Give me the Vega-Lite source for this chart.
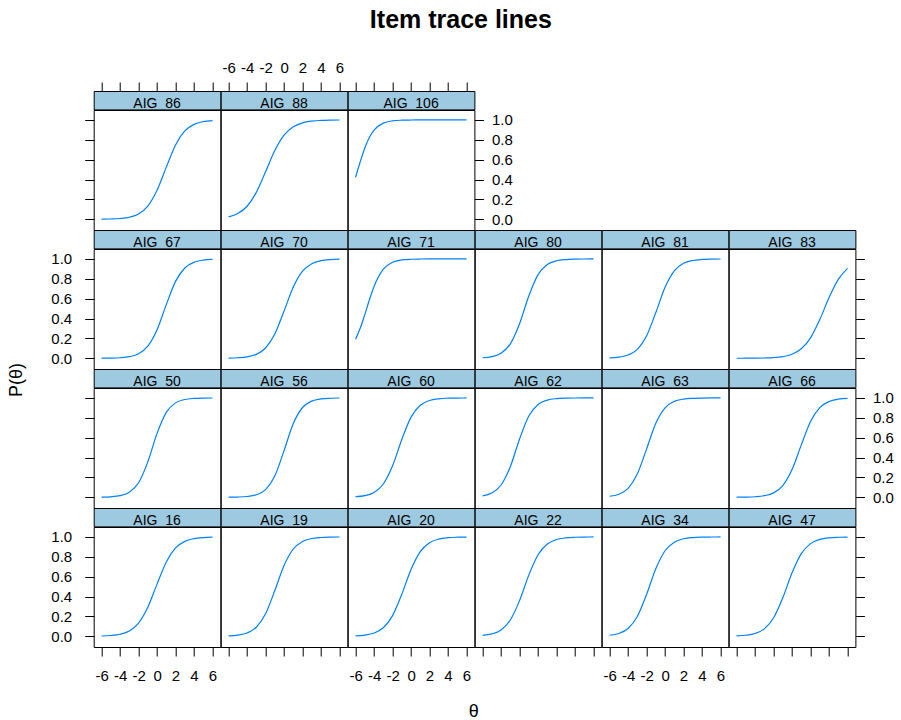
{
"$schema": "https://vega.github.io/schema/vega-lite/v6.json",
"background": "white",
"padding": {"left": 5, "top": 8, "right": 0, "bottom": 0},
"title": {"text": "Item trace lines", "fontSize": 25, "fontWeight": "bold", "font": "Liberation Sans", "color": "black", "anchor": "middle", "dx": 11.5, "offset": 26.3},
"config": {
  "view": {"stroke": "black", "strokeWidth": 1},
  "axis": {"domain": false, "grid": false, "ticks": true, "tickColor": "black", "tickSize": 9, "tickWidth": 1, "labelFont": "Liberation Sans", "labelFontSize": 15, "labelColor": "black", "labelFlush": false, "labelOverlap": false, "titleFont": "Liberation Sans", "titleFontSize": 18, "titleFontWeight": "normal", "titleColor": "black"}
},
"datasets": {"trace": [
{"item":"AIG_86","theta":-6,"p":0.0011},{"item":"AIG_86","theta":-5,"p":0.0029},{"item":"AIG_86","theta":-4,"p":0.0078},{"item":"AIG_86","theta":-3,"p":0.0206},{"item":"AIG_86","theta":-2,"p":0.0537},{"item":"AIG_86","theta":-1,"p":0.1324},{"item":"AIG_86","theta":0,"p":0.2911},{"item":"AIG_86","theta":1,"p":0.525},{"item":"AIG_86","theta":2,"p":0.7484},{"item":"AIG_86","theta":3,"p":0.8889},{"item":"AIG_86","theta":4,"p":0.9556},{"item":"AIG_86","theta":5,"p":0.983},{"item":"AIG_86","theta":6,"p":0.9936},
{"item":"AIG_88","theta":-6,"p":0.0244},{"item":"AIG_88","theta":-5,"p":0.0578},{"item":"AIG_88","theta":-4,"p":0.1312},{"item":"AIG_88","theta":-3,"p":0.271},{"item":"AIG_88","theta":-2,"p":0.4775},{"item":"AIG_88","theta":-1,"p":0.692},{"item":"AIG_88","theta":0,"p":0.847},{"item":"AIG_88","theta":1,"p":0.9315},{"item":"AIG_88","theta":2,"p":0.971},{"item":"AIG_88","theta":3,"p":0.988},{"item":"AIG_88","theta":4,"p":0.995},{"item":"AIG_88","theta":5,"p":0.998},{"item":"AIG_88","theta":6,"p":0.9992},
{"item":"AIG_106","theta":-6,"p":0.423},{"item":"AIG_106","theta":-5.5,"p":0.577},{"item":"AIG_106","theta":-5,"p":0.717},{"item":"AIG_106","theta":-4.5,"p":0.825},{"item":"AIG_106","theta":-4,"p":0.8975},{"item":"AIG_106","theta":-3,"p":0.968},{"item":"AIG_106","theta":-2,"p":0.9905},{"item":"AIG_106","theta":-1,"p":0.9972},{"item":"AIG_106","theta":0,"p":0.9992},{"item":"AIG_106","theta":1,"p":0.9998},{"item":"AIG_106","theta":2,"p":0.9999},{"item":"AIG_106","theta":3,"p":1},{"item":"AIG_106","theta":4,"p":1},{"item":"AIG_106","theta":5,"p":1},{"item":"AIG_106","theta":6,"p":1},
{"item":"AIG_67","theta":-6,"p":0.0007},{"item":"AIG_67","theta":-5,"p":0.0019},{"item":"AIG_67","theta":-4,"p":0.0055},{"item":"AIG_67","theta":-3,"p":0.016},{"item":"AIG_67","theta":-2,"p":0.0452},{"item":"AIG_67","theta":-1,"p":0.1214},{"item":"AIG_67","theta":0,"p":0.287},{"item":"AIG_67","theta":1,"p":0.54},{"item":"AIG_67","theta":2,"p":0.774},{"item":"AIG_67","theta":3,"p":0.909},{"item":"AIG_67","theta":4,"p":0.9668},{"item":"AIG_67","theta":5,"p":0.9883},{"item":"AIG_67","theta":6,"p":0.996},
{"item":"AIG_70","theta":-6,"p":0.0019},{"item":"AIG_70","theta":-5,"p":0.0052},{"item":"AIG_70","theta":-4,"p":0.0145},{"item":"AIG_70","theta":-3,"p":0.0395},{"item":"AIG_70","theta":-2,"p":0.1034},{"item":"AIG_70","theta":-1,"p":0.244},{"item":"AIG_70","theta":0,"p":0.475},{"item":"AIG_70","theta":1,"p":0.717},{"item":"AIG_70","theta":2,"p":0.8765},{"item":"AIG_70","theta":3,"p":0.952},{"item":"AIG_70","theta":4,"p":0.9824},{"item":"AIG_70","theta":5,"p":0.9936},{"item":"AIG_70","theta":6,"p":0.9977},
{"item":"AIG_71","theta":-6,"p":0.1916},{"item":"AIG_71","theta":-5.5,"p":0.3016},{"item":"AIG_71","theta":-5,"p":0.44},{"item":"AIG_71","theta":-4.5,"p":0.589},{"item":"AIG_71","theta":-4,"p":0.723},{"item":"AIG_71","theta":-3,"p":0.8966},{"item":"AIG_71","theta":-2,"p":0.9665},{"item":"AIG_71","theta":-1,"p":0.9896},{"item":"AIG_71","theta":0,"p":0.9969},{"item":"AIG_71","theta":1,"p":0.9991},{"item":"AIG_71","theta":2,"p":0.9997},{"item":"AIG_71","theta":3,"p":0.9999},{"item":"AIG_71","theta":4,"p":1},{"item":"AIG_71","theta":5,"p":1},{"item":"AIG_71","theta":6,"p":1},
{"item":"AIG_80","theta":-6,"p":0.0053},{"item":"AIG_80","theta":-5,"p":0.0166},{"item":"AIG_80","theta":-4,"p":0.0507},{"item":"AIG_80","theta":-3,"p":0.1443},{"item":"AIG_80","theta":-2,"p":0.3475},{"item":"AIG_80","theta":-1,"p":0.627},{"item":"AIG_80","theta":0,"p":0.8416},{"item":"AIG_80","theta":1,"p":0.9438},{"item":"AIG_80","theta":2,"p":0.9815},{"item":"AIG_80","theta":3,"p":0.994},{"item":"AIG_80","theta":4,"p":0.9981},{"item":"AIG_80","theta":5,"p":0.9994},{"item":"AIG_80","theta":6,"p":0.9998},
{"item":"AIG_81","theta":-6,"p":0.0038},{"item":"AIG_81","theta":-5,"p":0.0112},{"item":"AIG_81","theta":-4,"p":0.0323},{"item":"AIG_81","theta":-3,"p":0.0895},{"item":"AIG_81","theta":-2,"p":0.2244},{"item":"AIG_81","theta":-1,"p":0.46},{"item":"AIG_81","theta":0,"p":0.715},{"item":"AIG_81","theta":1,"p":0.8808},{"item":"AIG_81","theta":2,"p":0.956},{"item":"AIG_81","theta":3,"p":0.9846},{"item":"AIG_81","theta":4,"p":0.9947},{"item":"AIG_81","theta":5,"p":0.9982},{"item":"AIG_81","theta":6,"p":0.9994},
{"item":"AIG_83","theta":-6,"p":0.0002},{"item":"AIG_83","theta":-5,"p":0.0005},{"item":"AIG_83","theta":-4,"p":0.0012},{"item":"AIG_83","theta":-3,"p":0.0029},{"item":"AIG_83","theta":-2,"p":0.007},{"item":"AIG_83","theta":-1,"p":0.0171},{"item":"AIG_83","theta":0,"p":0.0411},{"item":"AIG_83","theta":1,"p":0.0953},{"item":"AIG_83","theta":2,"p":0.2059},{"item":"AIG_83","theta":3,"p":0.3894},{"item":"AIG_83","theta":4,"p":0.6106},{"item":"AIG_83","theta":5,"p":0.7941},{"item":"AIG_83","theta":6,"p":0.9047},
{"item":"AIG_50","theta":-6,"p":0.0015},{"item":"AIG_50","theta":-5,"p":0.0049},{"item":"AIG_50","theta":-4,"p":0.0158},{"item":"AIG_50","theta":-3,"p":0.0497},{"item":"AIG_50","theta":-2,"p":0.1456},{"item":"AIG_50","theta":-1,"p":0.3566},{"item":"AIG_50","theta":0,"p":0.6434},{"item":"AIG_50","theta":1,"p":0.8544},{"item":"AIG_50","theta":2,"p":0.9503},{"item":"AIG_50","theta":3,"p":0.9842},{"item":"AIG_50","theta":4,"p":0.9951},{"item":"AIG_50","theta":5,"p":0.9985},{"item":"AIG_50","theta":6,"p":0.9995},
{"item":"AIG_56","theta":-6,"p":0.0008},{"item":"AIG_56","theta":-5,"p":0.0024},{"item":"AIG_56","theta":-4,"p":0.0078},{"item":"AIG_56","theta":-3,"p":0.0251},{"item":"AIG_56","theta":-2,"p":0.0773},{"item":"AIG_56","theta":-1,"p":0.2142},{"item":"AIG_56","theta":0,"p":0.47},{"item":"AIG_56","theta":1,"p":0.7427},{"item":"AIG_56","theta":2,"p":0.9037},{"item":"AIG_56","theta":3,"p":0.9683},{"item":"AIG_56","theta":4,"p":0.99},{"item":"AIG_56","theta":5,"p":0.9969},{"item":"AIG_56","theta":6,"p":0.9991},
{"item":"AIG_60","theta":-6,"p":0.0057},{"item":"AIG_60","theta":-5,"p":0.0168},{"item":"AIG_60","theta":-4,"p":0.0488},{"item":"AIG_60","theta":-3,"p":0.1335},{"item":"AIG_60","theta":-2,"p":0.3165},{"item":"AIG_60","theta":-1,"p":0.5818},{"item":"AIG_60","theta":0,"p":0.8069},{"item":"AIG_60","theta":1,"p":0.9262},{"item":"AIG_60","theta":2,"p":0.9742},{"item":"AIG_60","theta":3,"p":0.9912},{"item":"AIG_60","theta":4,"p":0.9971},{"item":"AIG_60","theta":5,"p":0.999},{"item":"AIG_60","theta":6,"p":0.9997},
{"item":"AIG_62","theta":-6,"p":0.0139},{"item":"AIG_62","theta":-5,"p":0.0427},{"item":"AIG_62","theta":-4,"p":0.1235},{"item":"AIG_62","theta":-3,"p":0.3079},{"item":"AIG_62","theta":-2,"p":0.5866},{"item":"AIG_62","theta":-1,"p":0.8176},{"item":"AIG_62","theta":0,"p":0.934},{"item":"AIG_62","theta":1,"p":0.9781},{"item":"AIG_62","theta":2,"p":0.993},{"item":"AIG_62","theta":3,"p":0.9978},{"item":"AIG_62","theta":4,"p":0.9993},{"item":"AIG_62","theta":5,"p":0.9998},{"item":"AIG_62","theta":6,"p":0.9999},
{"item":"AIG_63","theta":-6,"p":0.0102},{"item":"AIG_63","theta":-5,"p":0.0308},{"item":"AIG_63","theta":-4,"p":0.0895},{"item":"AIG_63","theta":-3,"p":0.2333},{"item":"AIG_63","theta":-2,"p":0.485},{"item":"AIG_63","theta":-1,"p":0.7446},{"item":"AIG_63","theta":0,"p":0.9002},{"item":"AIG_63","theta":1,"p":0.9654},{"item":"AIG_63","theta":2,"p":0.9886},{"item":"AIG_63","theta":3,"p":0.9963},{"item":"AIG_63","theta":4,"p":0.9988},{"item":"AIG_63","theta":5,"p":0.9996},{"item":"AIG_63","theta":6,"p":0.9999},
{"item":"AIG_66","theta":-6,"p":0.0007},{"item":"AIG_66","theta":-5,"p":0.0019},{"item":"AIG_66","theta":-4,"p":0.0055},{"item":"AIG_66","theta":-3,"p":0.0158},{"item":"AIG_66","theta":-2,"p":0.0444},{"item":"AIG_66","theta":-1,"p":0.1182},{"item":"AIG_66","theta":0,"p":0.2789},{"item":"AIG_66","theta":1,"p":0.5275},{"item":"AIG_66","theta":2,"p":0.7631},{"item":"AIG_66","theta":3,"p":0.9029},{"item":"AIG_66","theta":4,"p":0.964},{"item":"AIG_66","theta":5,"p":0.9873},{"item":"AIG_66","theta":6,"p":0.9956},
{"item":"AIG_16","theta":-6,"p":0.0029},{"item":"AIG_16","theta":-5,"p":0.0078},{"item":"AIG_16","theta":-4,"p":0.0206},{"item":"AIG_16","theta":-3,"p":0.0537},{"item":"AIG_16","theta":-2,"p":0.1324},{"item":"AIG_16","theta":-1,"p":0.2911},{"item":"AIG_16","theta":0,"p":0.525},{"item":"AIG_16","theta":1,"p":0.7484},{"item":"AIG_16","theta":2,"p":0.8889},{"item":"AIG_16","theta":3,"p":0.9556},{"item":"AIG_16","theta":4,"p":0.983},{"item":"AIG_16","theta":5,"p":0.9936},{"item":"AIG_16","theta":6,"p":0.9976},
{"item":"AIG_19","theta":-6,"p":0.004},{"item":"AIG_19","theta":-5,"p":0.0117},{"item":"AIG_19","theta":-4,"p":0.0332},{"item":"AIG_19","theta":-3,"p":0.091},{"item":"AIG_19","theta":-2,"p":0.226},{"item":"AIG_19","theta":-1,"p":0.46},{"item":"AIG_19","theta":0,"p":0.713},{"item":"AIG_19","theta":1,"p":0.8786},{"item":"AIG_19","theta":2,"p":0.9548},{"item":"AIG_19","theta":3,"p":0.984},{"item":"AIG_19","theta":4,"p":0.9945},{"item":"AIG_19","theta":5,"p":0.9981},{"item":"AIG_19","theta":6,"p":0.9993},
{"item":"AIG_20","theta":-6,"p":0.0042},{"item":"AIG_20","theta":-5,"p":0.0118},{"item":"AIG_20","theta":-4,"p":0.0323},{"item":"AIG_20","theta":-3,"p":0.0855},{"item":"AIG_20","theta":-2,"p":0.2075},{"item":"AIG_20","theta":-1,"p":0.4231},{"item":"AIG_20","theta":0,"p":0.6726},{"item":"AIG_20","theta":1,"p":0.852},{"item":"AIG_20","theta":2,"p":0.9416},{"item":"AIG_20","theta":3,"p":0.9783},{"item":"AIG_20","theta":4,"p":0.9922},{"item":"AIG_20","theta":5,"p":0.9972},{"item":"AIG_20","theta":6,"p":0.999},
{"item":"AIG_22","theta":-6,"p":0.0083},{"item":"AIG_22","theta":-5,"p":0.0234},{"item":"AIG_22","theta":-4,"p":0.0641},{"item":"AIG_22","theta":-3,"p":0.1639},{"item":"AIG_22","theta":-2,"p":0.3589},{"item":"AIG_22","theta":-1,"p":0.6154},{"item":"AIG_22","theta":0,"p":0.8205},{"item":"AIG_22","theta":1,"p":0.9289},{"item":"AIG_22","theta":2,"p":0.974},{"item":"AIG_22","theta":3,"p":0.9907},{"item":"AIG_22","theta":4,"p":0.9967},{"item":"AIG_22","theta":5,"p":0.9989},{"item":"AIG_22","theta":6,"p":0.9996},
{"item":"AIG_34","theta":-6,"p":0.01},{"item":"AIG_34","theta":-5,"p":0.0285},{"item":"AIG_34","theta":-4,"p":0.0787},{"item":"AIG_34","theta":-3,"p":0.1994},{"item":"AIG_34","theta":-2,"p":0.4207},{"item":"AIG_34","theta":-1,"p":0.6792},{"item":"AIG_34","theta":0,"p":0.8606},{"item":"AIG_34","theta":1,"p":0.9473},{"item":"AIG_34","theta":2,"p":0.9813},{"item":"AIG_34","theta":3,"p":0.9935},{"item":"AIG_34","theta":4,"p":0.9978},{"item":"AIG_34","theta":5,"p":0.9992},{"item":"AIG_34","theta":6,"p":0.9997},
{"item":"AIG_47","theta":-6,"p":0.0037},{"item":"AIG_47","theta":-5,"p":0.0102},{"item":"AIG_47","theta":-4,"p":0.0279},{"item":"AIG_47","theta":-3,"p":0.0745},{"item":"AIG_47","theta":-2,"p":0.1838},{"item":"AIG_47","theta":-1,"p":0.387},{"item":"AIG_47","theta":0,"p":0.6388},{"item":"AIG_47","theta":1,"p":0.832},{"item":"AIG_47","theta":2,"p":0.9328},{"item":"AIG_47","theta":3,"p":0.9749},{"item":"AIG_47","theta":4,"p":0.9909},{"item":"AIG_47","theta":5,"p":0.9967},{"item":"AIG_47","theta":6,"p":0.9988}
]},
"hconcat": [
{"width": 24, "height": 578, "view": {"stroke": null}, "data": {"values": [{"label": "P(θ)"}]}, "mark": {"type": "text", "angle": 270, "fontSize": 18, "font": "Liberation Sans", "color": "black", "baseline": "middle", "align": "center"}, "encoding": {"text": {"field": "label"}}},
{"vconcat": [
{"columns": 6, "spacing": 0, "bounds": "flush", "align": "each", "concat": [
  {"width":126.7,"height":18.4,"view":{"fill":"#9ecae1","stroke":"black"},"data":{"values":[{"item":"AIG_86"}]},"mark":{"type":"text","baseline":"alphabetic","dy":7.5,"fontSize":14,"font":"Liberation Sans","color":"black","clip":true},"encoding":{"text":{"field":"item"},"x":{"datum":0,"type":"quantitative","scale":{"domain":[-6.85,6.85],"nice":false,"zero":false},"axis":{"orient":"top","values":[-6,-4,-2,0,2,4,6],"labels":false,"title":null}}}},
  {"width":126.7,"height":18.4,"view":{"fill":"#9ecae1","stroke":"black"},"data":{"values":[{"item":"AIG_88"}]},"mark":{"type":"text","baseline":"alphabetic","dy":7.5,"fontSize":14,"font":"Liberation Sans","color":"black","clip":true},"encoding":{"text":{"field":"item"},"x":{"datum":0,"type":"quantitative","scale":{"domain":[-6.85,6.85],"nice":false,"zero":false},"axis":{"orient":"top","values":[-6,-4,-2,0,2,4,6],"labelExpr":"'' + datum.value","labelPadding":7,"title":null}}}},
  {"width":126.7,"height":18.4,"view":{"fill":"#9ecae1","stroke":"black"},"data":{"values":[{"item":"AIG_106"}]},"mark":{"type":"text","baseline":"alphabetic","dy":7.5,"fontSize":14,"font":"Liberation Sans","color":"black","clip":true},"encoding":{"text":{"field":"item"},"x":{"datum":0,"type":"quantitative","scale":{"domain":[-6.85,6.85],"nice":false,"zero":false},"axis":{"orient":"top","values":[-6,-4,-2,0,2,4,6],"labels":false,"title":null}}}},
  {"width":126.7,"height":18.4,"view":{"stroke":null},"data":{"values":[]},"mark":"text"},
  {"width":126.7,"height":18.4,"view":{"stroke":null},"data":{"values":[]},"mark":"text"},
  {"width":126.7,"height":18.4,"view":{"stroke":null},"data":{"values":[]},"mark":"text"},

  {"width":126.7,"height":120,"data":{"name":"trace"},"transform":[{"filter":{"field":"item","equal":"AIG_86"}}],"mark":{"type":"line","color":"#0080ff","strokeWidth":1.2,"interpolate":"monotone"},"encoding":{"x":{"field":"theta","type":"quantitative","scale":{"domain":[-6.85,6.85],"nice":false,"zero":false},"axis":null},"y":{"field":"p","type":"quantitative","scale":{"domain":[-0.108,1.1],"nice":false,"zero":false},"axis":{"orient":"left","values":[0,0.2,0.4,0.6,0.8,1],"labels":false,"title":null,"minExtent":45,"maxExtent":45}}}},
  {"width":126.7,"height":120,"data":{"name":"trace"},"transform":[{"filter":{"field":"item","equal":"AIG_88"}}],"mark":{"type":"line","color":"#0080ff","strokeWidth":1.2,"interpolate":"monotone"},"encoding":{"x":{"field":"theta","type":"quantitative","scale":{"domain":[-6.85,6.85],"nice":false,"zero":false},"axis":null},"y":{"field":"p","type":"quantitative","scale":{"domain":[-0.108,1.1],"nice":false,"zero":false},"axis":null}}},
  {"width":126.7,"height":120,"data":{"name":"trace"},"transform":[{"filter":{"field":"item","equal":"AIG_106"}}],"mark":{"type":"line","color":"#0080ff","strokeWidth":1.2,"interpolate":"monotone"},"encoding":{"x":{"field":"theta","type":"quantitative","scale":{"domain":[-6.85,6.85],"nice":false,"zero":false},"axis":null},"y":{"field":"p","type":"quantitative","scale":{"domain":[-0.108,1.1],"nice":false,"zero":false},"axis":{"orient":"right","values":[0,0.2,0.4,0.6,0.8,1],"format":".1f","labelPadding":8,"title":null}}}},
  {"width":126.7,"height":120,"view":{"stroke":null},"data":{"values":[]},"mark":"text"},
  {"width":126.7,"height":120,"view":{"stroke":null},"data":{"values":[]},"mark":"text"},
  {"width":126.7,"height":120,"view":{"stroke":null},"data":{"values":[]},"mark":"text"},

  {"width":126.7,"height":18.4,"view":{"fill":"#9ecae1","stroke":"black"},"data":{"values":[{"item":"AIG_67"}]},"mark":{"type":"text","baseline":"alphabetic","dy":7.5,"fontSize":14,"font":"Liberation Sans","color":"black","clip":true},"encoding":{"text":{"field":"item"}}},
  {"width":126.7,"height":18.4,"view":{"fill":"#9ecae1","stroke":"black"},"data":{"values":[{"item":"AIG_70"}]},"mark":{"type":"text","baseline":"alphabetic","dy":7.5,"fontSize":14,"font":"Liberation Sans","color":"black","clip":true},"encoding":{"text":{"field":"item"}}},
  {"width":126.7,"height":18.4,"view":{"fill":"#9ecae1","stroke":"black"},"data":{"values":[{"item":"AIG_71"}]},"mark":{"type":"text","baseline":"alphabetic","dy":7.5,"fontSize":14,"font":"Liberation Sans","color":"black","clip":true},"encoding":{"text":{"field":"item"}}},
  {"width":126.7,"height":18.4,"view":{"fill":"#9ecae1","stroke":"black"},"data":{"values":[{"item":"AIG_80"}]},"mark":{"type":"text","baseline":"alphabetic","dy":7.5,"fontSize":14,"font":"Liberation Sans","color":"black","clip":true},"encoding":{"text":{"field":"item"}}},
  {"width":126.7,"height":18.4,"view":{"fill":"#9ecae1","stroke":"black"},"data":{"values":[{"item":"AIG_81"}]},"mark":{"type":"text","baseline":"alphabetic","dy":7.5,"fontSize":14,"font":"Liberation Sans","color":"black","clip":true},"encoding":{"text":{"field":"item"}}},
  {"width":126.7,"height":18.4,"view":{"fill":"#9ecae1","stroke":"black"},"data":{"values":[{"item":"AIG_83"}]},"mark":{"type":"text","baseline":"alphabetic","dy":7.5,"fontSize":14,"font":"Liberation Sans","color":"black","clip":true},"encoding":{"text":{"field":"item"}}},

  {"width":126.7,"height":120,"data":{"name":"trace"},"transform":[{"filter":{"field":"item","equal":"AIG_67"}}],"mark":{"type":"line","color":"#0080ff","strokeWidth":1.2,"interpolate":"monotone"},"encoding":{"x":{"field":"theta","type":"quantitative","scale":{"domain":[-6.85,6.85],"nice":false,"zero":false},"axis":null},"y":{"field":"p","type":"quantitative","scale":{"domain":[-0.108,1.1],"nice":false,"zero":false},"axis":{"orient":"left","values":[0,0.2,0.4,0.6,0.8,1],"format":".1f","labelPadding":13,"title":null,"minExtent":45,"maxExtent":45}}}},
  {"width":126.7,"height":120,"data":{"name":"trace"},"transform":[{"filter":{"field":"item","equal":"AIG_70"}}],"mark":{"type":"line","color":"#0080ff","strokeWidth":1.2,"interpolate":"monotone"},"encoding":{"x":{"field":"theta","type":"quantitative","scale":{"domain":[-6.85,6.85],"nice":false,"zero":false},"axis":null},"y":{"field":"p","type":"quantitative","scale":{"domain":[-0.108,1.1],"nice":false,"zero":false},"axis":null}}},
  {"width":126.7,"height":120,"data":{"name":"trace"},"transform":[{"filter":{"field":"item","equal":"AIG_71"}}],"mark":{"type":"line","color":"#0080ff","strokeWidth":1.2,"interpolate":"monotone"},"encoding":{"x":{"field":"theta","type":"quantitative","scale":{"domain":[-6.85,6.85],"nice":false,"zero":false},"axis":null},"y":{"field":"p","type":"quantitative","scale":{"domain":[-0.108,1.1],"nice":false,"zero":false},"axis":null}}},
  {"width":126.7,"height":120,"data":{"name":"trace"},"transform":[{"filter":{"field":"item","equal":"AIG_80"}}],"mark":{"type":"line","color":"#0080ff","strokeWidth":1.2,"interpolate":"monotone"},"encoding":{"x":{"field":"theta","type":"quantitative","scale":{"domain":[-6.85,6.85],"nice":false,"zero":false},"axis":null},"y":{"field":"p","type":"quantitative","scale":{"domain":[-0.108,1.1],"nice":false,"zero":false},"axis":null}}},
  {"width":126.7,"height":120,"data":{"name":"trace"},"transform":[{"filter":{"field":"item","equal":"AIG_81"}}],"mark":{"type":"line","color":"#0080ff","strokeWidth":1.2,"interpolate":"monotone"},"encoding":{"x":{"field":"theta","type":"quantitative","scale":{"domain":[-6.85,6.85],"nice":false,"zero":false},"axis":null},"y":{"field":"p","type":"quantitative","scale":{"domain":[-0.108,1.1],"nice":false,"zero":false},"axis":null}}},
  {"width":126.7,"height":120,"data":{"name":"trace"},"transform":[{"filter":{"field":"item","equal":"AIG_83"}}],"mark":{"type":"line","color":"#0080ff","strokeWidth":1.2,"interpolate":"monotone"},"encoding":{"x":{"field":"theta","type":"quantitative","scale":{"domain":[-6.85,6.85],"nice":false,"zero":false},"axis":null},"y":{"field":"p","type":"quantitative","scale":{"domain":[-0.108,1.1],"nice":false,"zero":false},"axis":{"orient":"right","values":[0,0.2,0.4,0.6,0.8,1],"labels":false,"title":null}}}},

  {"width":126.7,"height":18.4,"view":{"fill":"#9ecae1","stroke":"black"},"data":{"values":[{"item":"AIG_50"}]},"mark":{"type":"text","baseline":"alphabetic","dy":7.5,"fontSize":14,"font":"Liberation Sans","color":"black","clip":true},"encoding":{"text":{"field":"item"}}},
  {"width":126.7,"height":18.4,"view":{"fill":"#9ecae1","stroke":"black"},"data":{"values":[{"item":"AIG_56"}]},"mark":{"type":"text","baseline":"alphabetic","dy":7.5,"fontSize":14,"font":"Liberation Sans","color":"black","clip":true},"encoding":{"text":{"field":"item"}}},
  {"width":126.7,"height":18.4,"view":{"fill":"#9ecae1","stroke":"black"},"data":{"values":[{"item":"AIG_60"}]},"mark":{"type":"text","baseline":"alphabetic","dy":7.5,"fontSize":14,"font":"Liberation Sans","color":"black","clip":true},"encoding":{"text":{"field":"item"}}},
  {"width":126.7,"height":18.4,"view":{"fill":"#9ecae1","stroke":"black"},"data":{"values":[{"item":"AIG_62"}]},"mark":{"type":"text","baseline":"alphabetic","dy":7.5,"fontSize":14,"font":"Liberation Sans","color":"black","clip":true},"encoding":{"text":{"field":"item"}}},
  {"width":126.7,"height":18.4,"view":{"fill":"#9ecae1","stroke":"black"},"data":{"values":[{"item":"AIG_63"}]},"mark":{"type":"text","baseline":"alphabetic","dy":7.5,"fontSize":14,"font":"Liberation Sans","color":"black","clip":true},"encoding":{"text":{"field":"item"}}},
  {"width":126.7,"height":18.4,"view":{"fill":"#9ecae1","stroke":"black"},"data":{"values":[{"item":"AIG_66"}]},"mark":{"type":"text","baseline":"alphabetic","dy":7.5,"fontSize":14,"font":"Liberation Sans","color":"black","clip":true},"encoding":{"text":{"field":"item"}}},

  {"width":126.7,"height":120,"data":{"name":"trace"},"transform":[{"filter":{"field":"item","equal":"AIG_50"}}],"mark":{"type":"line","color":"#0080ff","strokeWidth":1.2,"interpolate":"monotone"},"encoding":{"x":{"field":"theta","type":"quantitative","scale":{"domain":[-6.85,6.85],"nice":false,"zero":false},"axis":null},"y":{"field":"p","type":"quantitative","scale":{"domain":[-0.108,1.1],"nice":false,"zero":false},"axis":{"orient":"left","values":[0,0.2,0.4,0.6,0.8,1],"labels":false,"title":null,"minExtent":45,"maxExtent":45}}}},
  {"width":126.7,"height":120,"data":{"name":"trace"},"transform":[{"filter":{"field":"item","equal":"AIG_56"}}],"mark":{"type":"line","color":"#0080ff","strokeWidth":1.2,"interpolate":"monotone"},"encoding":{"x":{"field":"theta","type":"quantitative","scale":{"domain":[-6.85,6.85],"nice":false,"zero":false},"axis":null},"y":{"field":"p","type":"quantitative","scale":{"domain":[-0.108,1.1],"nice":false,"zero":false},"axis":null}}},
  {"width":126.7,"height":120,"data":{"name":"trace"},"transform":[{"filter":{"field":"item","equal":"AIG_60"}}],"mark":{"type":"line","color":"#0080ff","strokeWidth":1.2,"interpolate":"monotone"},"encoding":{"x":{"field":"theta","type":"quantitative","scale":{"domain":[-6.85,6.85],"nice":false,"zero":false},"axis":null},"y":{"field":"p","type":"quantitative","scale":{"domain":[-0.108,1.1],"nice":false,"zero":false},"axis":null}}},
  {"width":126.7,"height":120,"data":{"name":"trace"},"transform":[{"filter":{"field":"item","equal":"AIG_62"}}],"mark":{"type":"line","color":"#0080ff","strokeWidth":1.2,"interpolate":"monotone"},"encoding":{"x":{"field":"theta","type":"quantitative","scale":{"domain":[-6.85,6.85],"nice":false,"zero":false},"axis":null},"y":{"field":"p","type":"quantitative","scale":{"domain":[-0.108,1.1],"nice":false,"zero":false},"axis":null}}},
  {"width":126.7,"height":120,"data":{"name":"trace"},"transform":[{"filter":{"field":"item","equal":"AIG_63"}}],"mark":{"type":"line","color":"#0080ff","strokeWidth":1.2,"interpolate":"monotone"},"encoding":{"x":{"field":"theta","type":"quantitative","scale":{"domain":[-6.85,6.85],"nice":false,"zero":false},"axis":null},"y":{"field":"p","type":"quantitative","scale":{"domain":[-0.108,1.1],"nice":false,"zero":false},"axis":null}}},
  {"width":126.7,"height":120,"data":{"name":"trace"},"transform":[{"filter":{"field":"item","equal":"AIG_66"}}],"mark":{"type":"line","color":"#0080ff","strokeWidth":1.2,"interpolate":"monotone"},"encoding":{"x":{"field":"theta","type":"quantitative","scale":{"domain":[-6.85,6.85],"nice":false,"zero":false},"axis":null},"y":{"field":"p","type":"quantitative","scale":{"domain":[-0.108,1.1],"nice":false,"zero":false},"axis":{"orient":"right","values":[0,0.2,0.4,0.6,0.8,1],"format":".1f","labelPadding":8,"title":null}}}},

  {"width":126.7,"height":18.4,"view":{"fill":"#9ecae1","stroke":"black"},"data":{"values":[{"item":"AIG_16"}]},"mark":{"type":"text","baseline":"alphabetic","dy":7.5,"fontSize":14,"font":"Liberation Sans","color":"black","clip":true},"encoding":{"text":{"field":"item"}}},
  {"width":126.7,"height":18.4,"view":{"fill":"#9ecae1","stroke":"black"},"data":{"values":[{"item":"AIG_19"}]},"mark":{"type":"text","baseline":"alphabetic","dy":7.5,"fontSize":14,"font":"Liberation Sans","color":"black","clip":true},"encoding":{"text":{"field":"item"}}},
  {"width":126.7,"height":18.4,"view":{"fill":"#9ecae1","stroke":"black"},"data":{"values":[{"item":"AIG_20"}]},"mark":{"type":"text","baseline":"alphabetic","dy":7.5,"fontSize":14,"font":"Liberation Sans","color":"black","clip":true},"encoding":{"text":{"field":"item"}}},
  {"width":126.7,"height":18.4,"view":{"fill":"#9ecae1","stroke":"black"},"data":{"values":[{"item":"AIG_22"}]},"mark":{"type":"text","baseline":"alphabetic","dy":7.5,"fontSize":14,"font":"Liberation Sans","color":"black","clip":true},"encoding":{"text":{"field":"item"}}},
  {"width":126.7,"height":18.4,"view":{"fill":"#9ecae1","stroke":"black"},"data":{"values":[{"item":"AIG_34"}]},"mark":{"type":"text","baseline":"alphabetic","dy":7.5,"fontSize":14,"font":"Liberation Sans","color":"black","clip":true},"encoding":{"text":{"field":"item"}}},
  {"width":126.7,"height":18.4,"view":{"fill":"#9ecae1","stroke":"black"},"data":{"values":[{"item":"AIG_47"}]},"mark":{"type":"text","baseline":"alphabetic","dy":7.5,"fontSize":14,"font":"Liberation Sans","color":"black","clip":true},"encoding":{"text":{"field":"item"}}},

  {"width":126.7,"height":120,"data":{"name":"trace"},"transform":[{"filter":{"field":"item","equal":"AIG_16"}}],"mark":{"type":"line","color":"#0080ff","strokeWidth":1.2,"interpolate":"monotone"},"encoding":{"x":{"field":"theta","type":"quantitative","scale":{"domain":[-6.85,6.85],"nice":false,"zero":false},"axis":{"orient":"bottom","values":[-6,-4,-2,0,2,4,6],"labelExpr":"'' + datum.value","labelPadding":12,"title":null}},"y":{"field":"p","type":"quantitative","scale":{"domain":[-0.108,1.1],"nice":false,"zero":false},"axis":{"orient":"left","values":[0,0.2,0.4,0.6,0.8,1],"format":".1f","labelPadding":13,"title":null,"minExtent":45,"maxExtent":45}}}},
  {"width":126.7,"height":120,"data":{"name":"trace"},"transform":[{"filter":{"field":"item","equal":"AIG_19"}}],"mark":{"type":"line","color":"#0080ff","strokeWidth":1.2,"interpolate":"monotone"},"encoding":{"x":{"field":"theta","type":"quantitative","scale":{"domain":[-6.85,6.85],"nice":false,"zero":false},"axis":{"orient":"bottom","values":[-6,-4,-2,0,2,4,6],"labels":false,"title":null}},"y":{"field":"p","type":"quantitative","scale":{"domain":[-0.108,1.1],"nice":false,"zero":false},"axis":null}}},
  {"width":126.7,"height":120,"data":{"name":"trace"},"transform":[{"filter":{"field":"item","equal":"AIG_20"}}],"mark":{"type":"line","color":"#0080ff","strokeWidth":1.2,"interpolate":"monotone"},"encoding":{"x":{"field":"theta","type":"quantitative","scale":{"domain":[-6.85,6.85],"nice":false,"zero":false},"axis":{"orient":"bottom","values":[-6,-4,-2,0,2,4,6],"labelExpr":"'' + datum.value","labelPadding":12,"title":null}},"y":{"field":"p","type":"quantitative","scale":{"domain":[-0.108,1.1],"nice":false,"zero":false},"axis":null}}},
  {"width":126.7,"height":120,"data":{"name":"trace"},"transform":[{"filter":{"field":"item","equal":"AIG_22"}}],"mark":{"type":"line","color":"#0080ff","strokeWidth":1.2,"interpolate":"monotone"},"encoding":{"x":{"field":"theta","type":"quantitative","scale":{"domain":[-6.85,6.85],"nice":false,"zero":false},"axis":{"orient":"bottom","values":[-6,-4,-2,0,2,4,6],"labels":false,"title":null}},"y":{"field":"p","type":"quantitative","scale":{"domain":[-0.108,1.1],"nice":false,"zero":false},"axis":null}}},
  {"width":126.7,"height":120,"data":{"name":"trace"},"transform":[{"filter":{"field":"item","equal":"AIG_34"}}],"mark":{"type":"line","color":"#0080ff","strokeWidth":1.2,"interpolate":"monotone"},"encoding":{"x":{"field":"theta","type":"quantitative","scale":{"domain":[-6.85,6.85],"nice":false,"zero":false},"axis":{"orient":"bottom","values":[-6,-4,-2,0,2,4,6],"labelExpr":"'' + datum.value","labelPadding":12,"title":null}},"y":{"field":"p","type":"quantitative","scale":{"domain":[-0.108,1.1],"nice":false,"zero":false},"axis":null}}},
  {"width":126.7,"height":120,"data":{"name":"trace"},"transform":[{"filter":{"field":"item","equal":"AIG_47"}}],"mark":{"type":"line","color":"#0080ff","strokeWidth":1.2,"interpolate":"monotone"},"encoding":{"x":{"field":"theta","type":"quantitative","scale":{"domain":[-6.85,6.85],"nice":false,"zero":false},"axis":{"orient":"bottom","values":[-6,-4,-2,0,2,4,6],"labels":false,"title":null}},"y":{"field":"p","type":"quantitative","scale":{"domain":[-0.108,1.1],"nice":false,"zero":false},"axis":{"orient":"right","values":[0,0.2,0.4,0.6,0.8,1],"labels":false,"title":null}}}}
]},
{"width": 760, "height": 30, "view": {"stroke": null}, "data": {"values": [{"label": "θ"}]}, "mark": {"type": "text", "fontSize": 18, "font": "Liberation Sans", "color": "black", "baseline": "middle", "align": "center", "dy": 12.5}, "encoding": {"text": {"field": "label"}}}
], "spacing": 0, "align": "each"}
],
"spacing": 18.7,
"align": "each"
}
